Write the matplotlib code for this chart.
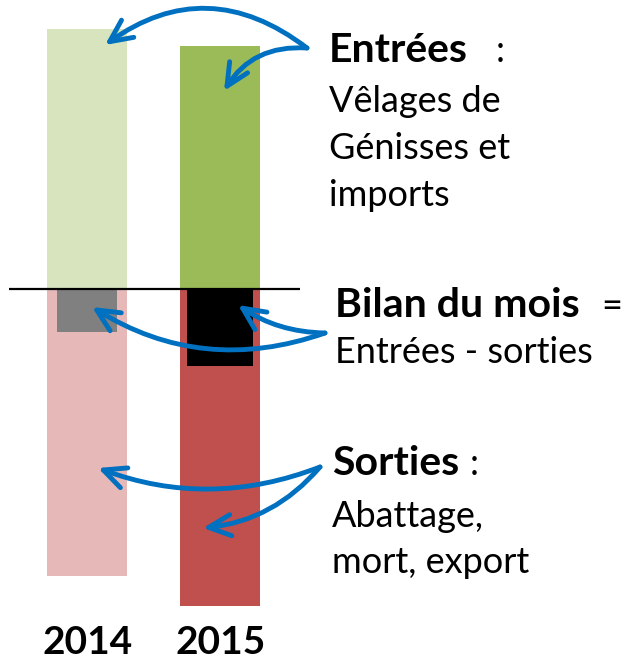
import matplotlib
matplotlib.use("Agg")
import matplotlib.pyplot as plt

# ---- data (arbitrary units) ----
years = ["2014", "2015"]
entrees = [260, 243]
sorties = [287, 317]
bilan = [-43, -77]

col_entrees = ["#D7E4BD", "#9BBB59"]
col_sorties = ["#E6B9B8", "#C0504D"]
col_bilan = ["#808080", "#000000"]

W, H = 630, 661
fig = plt.figure(figsize=(W / 100, H / 100), dpi=100)
ax = fig.add_axes([0, 0, 1, 1])
ax.set_xlim(-0.654, 4.072)
ax.set_ylim(-372, 289)
ax.axis("off")

x = list(range(len(years)))
ax.bar(x, entrees, width=0.6, color=col_entrees, zorder=1)
ax.bar(x, [-s for s in sorties], width=0.6, color=col_sorties, zorder=1)
ax.bar(x, bilan, width=[0.45, 0.495], color=col_bilan, zorder=2)
ax.hlines(0, -0.587, 1.596, color="black", lw=1.6, zorder=3)

FONT = "Lato"
for i, y in zip(x, years):
    ax.text(i, -365, y, ha="center", va="baseline", fontsize=28,
            fontweight="bold", family=FONT)

# overlay in pixel coordinates for annotations
ov = fig.add_axes([0, 0, 1, 1])
ov.set_xlim(0, W)
ov.set_ylim(H, 0)
ov.axis("off")

BS = 29.5
RS = 26
ov.text(329, 62, "Entrées", fontsize=BS, fontweight="bold", family=FONT, va="baseline")
ov.text(496, 62, ":", fontsize=RS, family=FONT, va="baseline")
for txt, yb in [("Vêlages de", 112), ("Génisses et", 159), ("imports", 206)]:
    ov.text(329, yb, txt, fontsize=RS, family=FONT, va="baseline")

ov.text(335, 317, "Bilan du mois", fontsize=BS, fontweight="bold", family=FONT, va="baseline")
ov.text(601, 317, "=", fontsize=RS, family=FONT, va="baseline")
ov.text(335, 363, "Entrées - sorties", fontsize=RS, family=FONT, va="baseline")

ov.text(332, 475, "Sorties", fontsize=BS, fontweight="bold", family=FONT, va="baseline")
ov.text(470, 475, ":", fontsize=RS, family=FONT, va="baseline")
ov.text(332, 527, "Abattage,", fontsize=RS, family=FONT, va="baseline")
ov.text(332, 573, "mort, export", fontsize=RS, family=FONT, va="baseline")

BLUE = "#0070C0"
arrows = [
    ((307, 48), (105, 45), 0.37),
    ((307, 48), (224, 91), 0.3),
    ((325, 333), (92, 307), -0.24),
    ((325, 333), (238, 305), -0.15),
    ((320, 467), (98, 468), -0.19),
    ((320, 467), (203, 528), -0.2),
]
for start, end, rad in arrows:
    ov.annotate("", xy=end, xytext=start,
                arrowprops=dict(arrowstyle="->,head_length=0.8,head_width=0.38",
                                connectionstyle=f"arc3,rad={rad}",
                                color=BLUE, lw=3.5, shrinkA=0, shrinkB=0,
                                mutation_scale=20, capstyle="round",
                                joinstyle="round"))

fig.savefig("out.png", dpi=100)
